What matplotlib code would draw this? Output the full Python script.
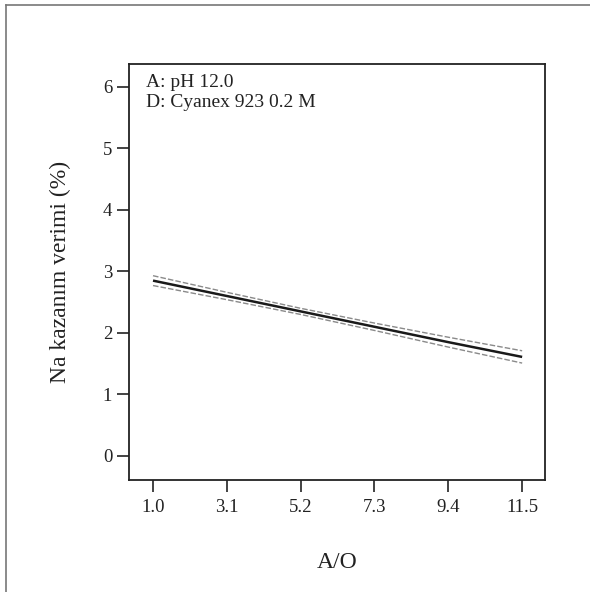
import matplotlib
matplotlib.use("Agg")
import matplotlib.pyplot as plt
from matplotlib.lines import Line2D

plt.rcParams['font.family'] = ['Liberation Serif', 'DejaVu Serif']

x_vals = [1.0, 3.1, 5.2, 7.3, 9.4, 11.5]
mean_vals = [2.85, 2.60, 2.35, 2.10, 1.85, 1.61]
upper_vals = [2.93, 2.66, 2.40, 2.16, 1.93, 1.71]
lower_vals = [2.77, 2.54, 2.30, 2.04, 1.77, 1.51]
x_ticks = [1.0, 3.1, 5.2, 7.3, 9.4, 11.5]
x_tick_labels = ["1.0", "3.1", "5.2", "7.3", "9.4", "11.5"]
y_ticks = [0, 1, 2, 3, 4, 5, 6]
annot_lines = ["A: pH 12.0", "D: Cyanex 923 0.2 M"]
x_label = "A/O"
y_label = "Na kazanım verimi (%)"

W, H = 590, 592
fig = plt.figure(figsize=(W/100, H/100), dpi=100)
ax = fig.add_axes([129/W, 1-480/H, (545-129)/W, (480-64)/H])

ax.plot(x_vals, mean_vals, color='#1a1a1a', lw=1.8, solid_capstyle='butt')
ax.plot(x_vals, upper_vals, color='#8a8a8a', lw=1.0, ls=(0, (4, 1.5)))
ax.plot(x_vals, lower_vals, color='#8a8a8a', lw=1.0, ls=(0, (4, 1.5)))

ax.set_xlim(0.317, 12.15)
ax.set_ylim(-0.39, 6.37)
ax.set_xticks(x_ticks)
ax.set_xticklabels(x_tick_labels)
ax.set_yticks(y_ticks)
ax.tick_params(axis='both', direction='out', length=8.6, width=1.2,
               color='#222222', labelsize=13.5, labelcolor='#222222')
ax.tick_params(axis='x', pad=5)
ax.tick_params(axis='y', pad=3.5)
for s in ax.spines.values():
    s.set_linewidth(1.3)
    s.set_color('#222222')

ax.set_xlabel(x_label, fontsize=17, color='#222222', labelpad=26)
ax.set_ylabel(y_label, fontsize=17, color='#222222', labelpad=23)

ax.text(0.04, 0.975, "\n".join(annot_lines), transform=ax.transAxes,
        ha='left', va='top', fontsize=14, color='#222222', linespacing=1.2)

# figure border (top and left visible)
fig.add_artist(Line2D([6/W, 1], [1-5/H, 1-5/H], transform=fig.transFigure,
                      color='#777777', lw=1.2))
fig.add_artist(Line2D([6/W, 6/W], [0, 1-5/H], transform=fig.transFigure,
                      color='#777777', lw=1.2))

fig.savefig("out.png", dpi=100)
